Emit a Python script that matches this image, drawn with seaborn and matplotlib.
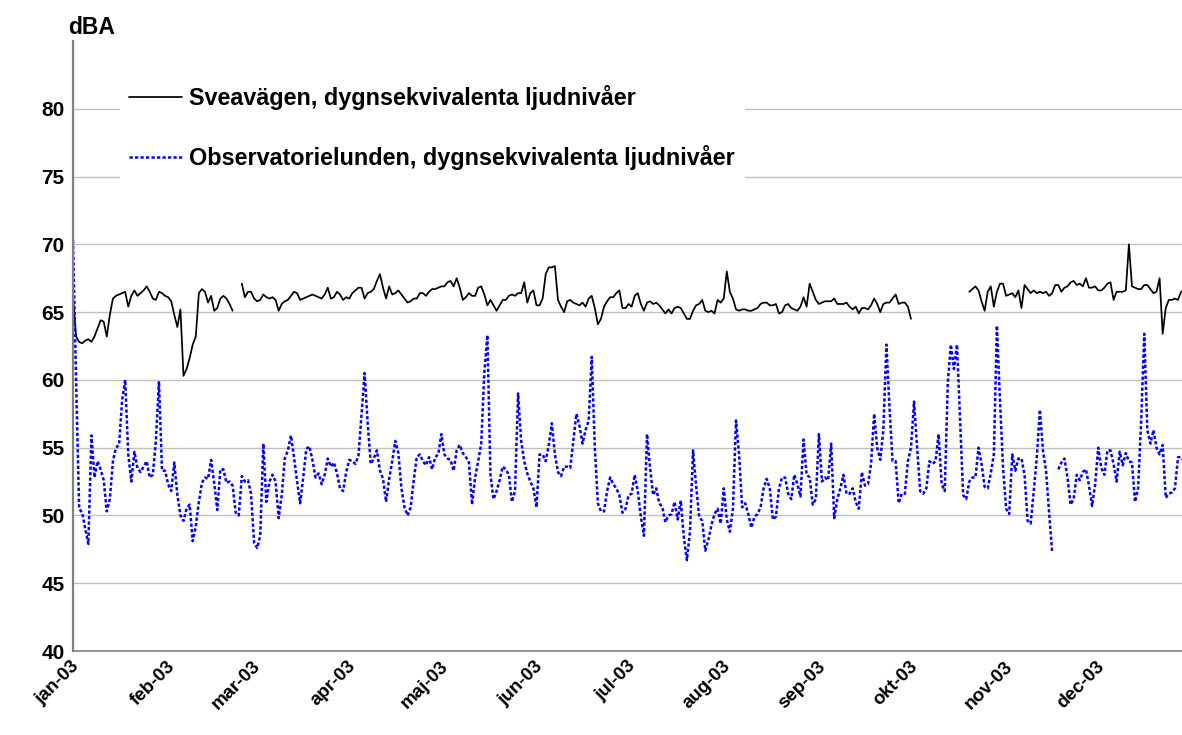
import numpy as np
import pandas as pd
import matplotlib
matplotlib.use("Agg")
import matplotlib.pyplot as plt
import matplotlib.dates as mdates
from matplotlib.lines import Line2D
from matplotlib.transforms import ScaledTranslation
import seaborn as sns

nan = np.nan

# Daily equivalent sound levels 2003 (dBA), one value per day
sveavagen = (
    # jan
    [66.2, 63.2, 62.8, 62.7, 62.9, 63.0, 62.8, 63.2, 63.8, 64.4, 64.3, 63.2, 64.8, 66.0, 66.2, 66.3,
     66.4, 66.5, 65.4, 66.2, 66.6, 66.2, 66.4, 66.6, 66.9, 66.5, 66.0, 65.9, 66.5, 66.4, 66.2]
    # feb
    + [66.1, 65.8, 64.8, 63.9, 65.2, 60.3, 60.8, 61.6, 62.6, 63.2, 66.4, 66.7, 66.5, 65.7, 66.2, 65.1,
       65.3, 66.0, 66.2, 66.0, 65.6, 65.1, nan, nan, 67.1, 66.1, 66.5, 66.5]
    # mar
    + [66.0, 65.8, 65.9, 66.3, 66.1, 66.0, 66.1, 65.9, 65.1, 65.6, 65.8, 65.9, 66.2, 66.5, 66.4, 65.9,
       66.0, 66.1, 66.2, 66.3, 66.2, 66.1, 66.0, 66.3, 66.8, 66.0, 66.1, 66.5, 66.3, 65.9, 66.1]
    # apr
    + [66.0, 66.4, 66.6, 66.8, 66.8, 66.0, 66.4, 66.5, 66.7, 67.3, 67.8, 66.8, 66.0, 66.9, 66.3, 66.4,
       66.6, 66.3, 66.0, 65.7, 65.8, 66.0, 66.0, 66.4, 66.4, 66.2, 66.5, 66.7, 66.7, 66.8]
    # maj
    + [66.9, 66.9, 67.2, 67.3, 66.9, 67.5, 66.8, 65.9, 66.1, 66.4, 66.2, 66.2, 66.8, 66.9, 66.3, 65.5,
       65.9, 65.5, 65.1, 65.5, 65.9, 65.9, 66.2, 66.3, 66.2, 66.4, 66.4, 67.2, 65.7, 66.4, 66.6]
    # jun
    + [65.5, 65.5, 66.0, 67.8, 68.3, 68.3, 68.4, 65.9, 65.4, 65.0, 65.8, 65.9, 65.7, 65.6, 65.5, 65.7,
       65.4, 66.0, 66.2, 65.3, 64.1, 64.5, 65.4, 65.8, 66.1, 66.1, 66.4, 66.6, 65.3, 65.3]
    # jul
    + [65.6, 65.4, 66.2, 66.4, 65.6, 65.1, 65.7, 65.8, 65.6, 65.7, 65.5, 65.2, 64.9, 65.2, 64.9, 65.3,
       65.4, 65.3, 64.9, 64.5, 64.5, 65.1, 65.5, 65.6, 65.9, 65.1, 65.0, 65.1, 64.9, 65.9, 65.7]
    # aug
    + [66.0, 68.0, 66.5, 66.0, 65.2, 65.1, 65.2, 65.2, 65.1, 65.1, 65.2, 65.3, 65.6, 65.7, 65.7, 65.5,
       65.5, 65.6, 64.9, 65.0, 65.5, 65.6, 65.3, 65.2, 65.1, 65.4, 66.1, 65.4, 67.1, 66.5, 65.9]
    # sep
    + [65.6, 65.7, 65.8, 65.8, 65.8, 66.0, 65.6, 65.6, 65.6, 65.7, 65.4, 65.2, 65.4, 64.9, 65.3, 65.3,
       65.2, 65.5, 66.0, 65.6, 65.0, 65.6, 65.7, 65.7, 66.0, 66.3, 65.6, 65.7, 65.7, 65.4]
    # okt
    + [64.5] + [nan] * 18
    + [66.5, 66.7, 66.9, 66.6, 65.8, 65.1, 66.5, 66.9, 65.4, 66.5, 67.1, 67.1]
    # nov
    + [66.2, 66.3, 66.4, 66.1, 66.6, 65.3, 67.0, 66.7, 66.4, 66.6, 66.4, 66.5, 66.4, 66.5, 66.2, 66.4,
       67.0, 67.0, 66.5, 66.8, 66.9, 67.2, 67.3, 67.0, 67.1, 66.9, 67.5, 66.8, 66.8, 66.9]
    # dec
    + [66.6, 66.6, 66.8, 67.1, 67.2, 65.9, 66.5, 66.5, 66.5, 66.6, 70.0, 66.9, 66.8, 66.7, 66.7, 67.0,
       67.0, 66.7, 66.4, 66.5, 67.5, 63.4, 65.3, 65.9, 65.9, 66.0, 65.9, 66.5, 66.6, 66.4, 66.5]
)

observatorielunden = (
    # jan
    [70.3, 60.0, 50.5, 50.2, 49.0, 47.9, 55.9, 52.8, 54.0, 53.4, 52.6, 50.3, 51.2, 54.0, 55.0, 55.2,
     58.5, 60.0, 54.5, 52.5, 54.7, 53.5, 53.2, 53.6, 54.0, 52.8, 53.0, 55.5, 59.9, 53.3, 53.3]
    # feb
    + [52.3, 51.8, 53.9, 51.5, 50.0, 49.6, 50.5, 50.8, 48.1, 49.2, 51.0, 52.4, 52.8, 52.7, 54.1, 52.4,
       50.4, 53.4, 53.4, 52.4, 52.5, 52.2, 50.2, 50.0, 52.9, 52.5, 52.6, 51.6]
    # mar
    + [48.0, 47.6, 48.5, 55.3, 51.0, 52.5, 53.0, 52.5, 49.8, 51.5, 54.2, 54.8, 55.9, 54.3, 52.5, 50.9,
       52.8, 54.9, 55.1, 54.1, 52.8, 53.1, 52.3, 53.0, 54.2, 53.6, 53.9, 53.1, 52.0, 51.8, 53.2]
    # apr
    + [54.1, 54.0, 53.8, 54.4, 57.5, 60.5, 56.8, 53.8, 54.2, 54.8, 53.3, 52.7, 51.0, 52.7, 54.0, 55.5,
       54.6, 52.0, 50.6, 50.0, 50.6, 52.6, 54.3, 54.5, 54.0, 53.7, 54.3, 53.4, 54.3, 54.5]
    # maj
    + [56.0, 54.5, 54.2, 54.1, 53.3, 54.8, 55.2, 54.6, 54.3, 53.9, 50.8, 52.8, 54.0, 55.3, 60.5, 63.3,
       53.0, 51.2, 51.8, 52.6, 53.6, 53.4, 53.0, 51.0, 51.8, 59.0, 55.5, 54.0, 53.1, 52.5, 52.0]
    # jun
    + [50.6, 54.5, 54.5, 54.0, 55.2, 56.8, 54.5, 53.2, 52.9, 53.6, 53.6, 53.5, 55.5, 57.5, 56.6, 55.3,
       56.3, 57.0, 61.7, 55.0, 50.9, 50.3, 50.3, 51.8, 52.8, 52.3, 52.0, 51.5, 50.2, 50.5]
    # jul
    + [51.5, 51.6, 53.0, 51.8, 49.9, 48.5, 56.0, 53.5, 51.5, 52.0, 50.9, 50.6, 49.5, 50.0, 50.1, 51.0,
       49.7, 51.1, 48.4, 46.7, 48.8, 54.8, 52.2, 49.9, 49.6, 47.4, 48.2, 49.3, 50.1, 50.5, 49.4]
    # aug
    + [52.0, 49.7, 48.8, 50.5, 57.0, 54.5, 50.6, 50.9, 50.1, 49.1, 49.9, 50.1, 50.6, 52.0, 52.7, 52.0,
       49.7, 49.9, 52.0, 52.8, 52.8, 51.6, 51.2, 53.0, 52.3, 51.4, 55.6, 53.0, 52.8, 50.8, 51.2]
    # sep
    + [56.0, 52.5, 52.8, 52.6, 55.3, 49.8, 51.2, 52.0, 53.0, 51.6, 51.6, 52.0, 51.0, 50.5, 53.2, 52.2,
       52.3, 53.8, 57.5, 55.0, 54.1, 56.3, 62.6, 58.0, 54.0, 54.0, 50.9, 51.6, 51.6, 54.0]
    # okt
    + [55.0, 58.4, 55.0, 51.8, 51.6, 52.0, 54.0, 53.8, 54.0, 56.0, 52.3, 51.8, 59.8, 62.6, 60.8, 62.6,
       57.0, 51.5, 51.2, 52.5, 52.8, 52.8, 55.0, 53.8, 52.1, 52.0, 53.1, 54.5, 64.0, 58.5, 53.5]
    # nov
    + [50.5, 50.1, 54.5, 53.3, 54.2, 54.2, 53.0, 49.6, 49.4, 51.8, 54.3, 57.8, 54.8, 53.3, 50.2, 47.3,
       nan, 53.4, 53.9, 54.2, 52.8, 50.8, 51.2, 53.0, 52.6, 53.2, 53.4, 52.2, 50.7, 52.3]
    # dec
    + [55.0, 53.5, 53.0, 54.8, 54.8, 53.8, 52.5, 54.7, 53.7, 54.6, 54.0, 53.9, 51.0, 52.0, 57.0, 63.4,
       56.3, 55.3, 56.3, 55.0, 54.5, 55.2, 51.3, 51.6, 51.7, 52.0, 54.3, 54.3, 54.0, 53.5, 53.8]
)

month_labels = ["jan-03", "feb-03", "mar-03", "apr-03", "maj-03", "jun-03",
                "jul-03", "aug-03", "sep-03", "okt-03", "nov-03", "dec-03"]
y_ticks = [40, 45, 50, 55, 60, 65, 70, 75, 80]

label_svea = "Sveavägen, dygnsekvivalenta ljudnivåer"
label_obs = "Observatorielunden, dygnsekvivalenta ljudnivåer"

dates = pd.date_range("2003-01-01", "2003-12-31", freq="D")
df = pd.DataFrame({"datum": dates, "svea": sveavagen, "obs": observatorielunden})
long = df.melt(id_vars="datum", var_name="plats", value_name="dBA")
# give each unbroken run its own id so missing days stay as gaps
long["segment"] = long.groupby("plats")["dBA"].transform(lambda s: s.isna().cumsum())
long = long.dropna()

sns.set_theme(style="white")
plt.rcParams["font.family"] = ["Liberation Sans", "DejaVu Sans"]
plt.rcParams["font.weight"] = "bold"
plt.rcParams["text.color"] = "black"
plt.rcParams["xtick.color"] = "black"
plt.rcParams["ytick.color"] = "black"

blue_dots = (0, (1.3, 0.9))

W, H = 1182, 735
fig = plt.figure(figsize=(W / 100, H / 100), dpi=100)
ax = fig.add_axes([73 / W, 1 - 651 / H, (W - 73) / W, 610 / H])

sns.lineplot(data=long[long["plats"] == "svea"], x="datum", y="dBA", units="segment",
             estimator=None, color="black", linewidth=1.25, ax=ax)
sns.lineplot(data=long[long["plats"] == "obs"], x="datum", y="dBA", units="segment",
             estimator=None, color="#0000ff", linewidth=1.8, linestyle=blue_dots, ax=ax)

ax.set_ylim(40, 85)
ax.set_yticks(y_ticks)
ax.set_yticklabels([str(v) for v in y_ticks], fontsize=15, fontweight="bold")
ax.yaxis.grid(True, color="#c0c0c0", linewidth=1.0)
ax.set_axisbelow(True)

start = mdates.date2num(pd.Timestamp("2003-01-01"))
ax.set_xlim(start, start + 361.3)
month_starts = pd.date_range("2003-01-01", periods=12, freq="MS")
ax.set_xticks(month_starts)
ax.set_xticklabels(month_labels, rotation=45, ha="right", va="center",
                   rotation_mode="anchor", fontsize=13.5, fontweight="bold")
ax.tick_params(axis="x", direction="out", length=3, width=1, color="#808080", pad=4)
ax.tick_params(axis="y", direction="out", length=4, width=1, color="#808080", pad=2)
# nudge the slanted month labels a little right and down
shift = ScaledTranslation(0.04, -0.03, fig.dpi_scale_trans)
for lab in ax.get_xticklabels():
    lab.set_transform(lab.get_transform() + shift)
ax.set_xlabel("")
ax.set_ylabel("")

for side in ["top", "right"]:
    ax.spines[side].set_visible(False)
ax.spines["left"].set_color("#808080")
ax.spines["left"].set_linewidth(1.6)
ax.spines["bottom"].set_color("#808080")
ax.spines["bottom"].set_linewidth(1.2)

handles = [
    Line2D([], [], color="black", linewidth=1.25),
    Line2D([], [], color="#0000ff", linewidth=1.8, linestyle=blue_dots),
]
leg = ax.legend(handles, [label_svea, label_obs], loc="upper left",
                bbox_to_anchor=(120 / W, 1 - 76 / H), bbox_transform=fig.transFigure,
                borderaxespad=0, borderpad=0.4, handlelength=2.25, handletextpad=0.3,
                labelspacing=1.5, frameon=True, fancybox=False,
                prop={"size": 16.8, "weight": "bold"})
leg.get_frame().set_facecolor("white")
leg.get_frame().set_edgecolor("white")
leg.get_frame().set_alpha(1)

fig.text(68 / W, 1 - 27 / H, "dBA", fontsize=16.5, fontweight="bold", va="center", ha="left")

fig.savefig("out.png", dpi=100)
